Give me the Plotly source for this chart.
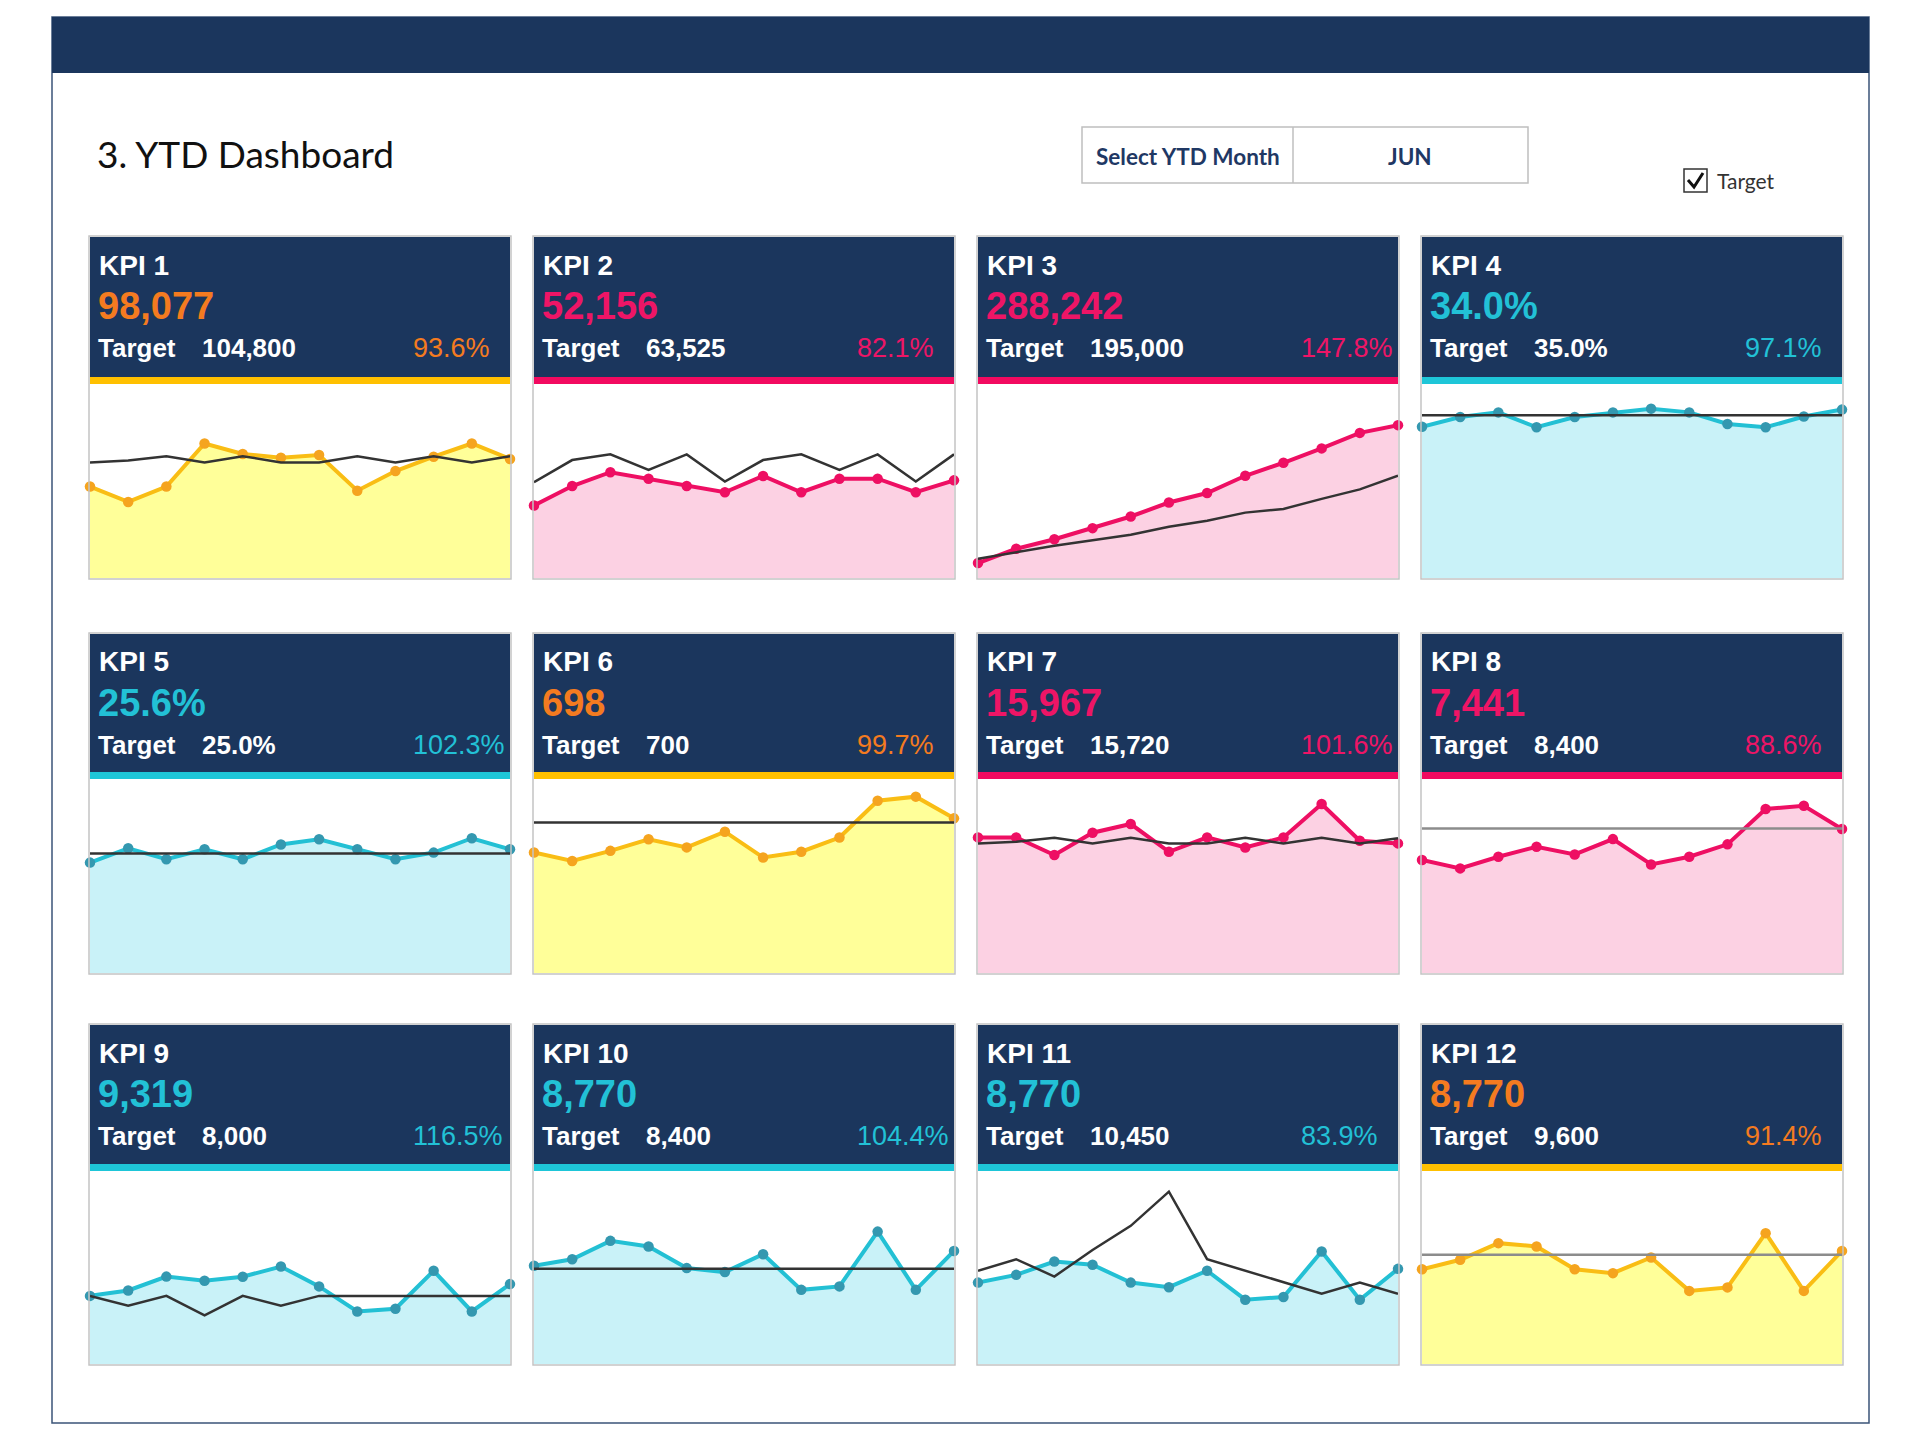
import plotly.graph_objects as go

W, H = 1920, 1440

# ---------------- data ----------------
months = ["JAN", "FEB", "MAR", "APR", "MAY", "JUN", "JUL", "AUG", "SEP", "OCT", "NOV", "DEC"]

kpi_names = [f"KPI {i}" for i in range(1, 13)]
kpi_values = ["98,077", "52,156", "288,242", "34.0%", "25.6%", "698",
              "15,967", "7,441", "9,319", "8,770", "8,770", "8,770"]
kpi_targets = ["104,800", "63,525", "195,000", "35.0%", "25.0%", "700",
               "15,720", "8,400", "8,000", "8,400", "10,450", "9,600"]
kpi_pcts = ["93.6%", "82.1%", "147.8%", "97.1%", "102.3%", "99.7%",
            "101.6%", "88.6%", "116.5%", "104.4%", "83.9%", "91.4%"]
kpi_status = ["amber", "red", "red", "blue", "blue", "amber",
              "red", "red", "blue", "blue", "blue", "amber"]

kpi1_actual = [7070, 5880, 7070, 10400, 9590, 9300, 9510, 6750, 8270, 9380, 10400, 9200]
kpi1_target = [8940, 9090, 9420, 8940, 9420, 8940, 8940, 9420, 8940, 9420, 8940, 9420]
kpi2_actual = [5600, 7110, 8180, 7680, 7110, 6630, 7890, 6630, 7680, 7680, 6630, 7550]
kpi2_target = [7400, 9120, 9560, 8360, 9560, 7460, 9120, 9560, 8360, 9560, 7460, 9560]
kpi3_actual = [38500, 75500, 100000, 128500, 158500, 194500, 219000, 263500, 297000, 334000, 374000, 394000]
kpi3_target = [49500, 66000, 83000, 97500, 111500, 132000, 147500, 168500, 178000, 204000, 228500, 263500]
kpi4_actual = [32.5, 34.6, 35.6, 32.4, 34.6, 35.6, 36.4, 35.6, 33.1, 32.4, 34.7, 36.2]
kpi4_target = [35.0] * 12
kpi5_actual = [23.1, 26.1, 23.8, 25.9, 23.8, 26.9, 28.0, 25.9, 23.8, 25.2, 28.2, 25.9]
kpi5_target = [25.0] * 12
kpi6_actual = [560, 521, 568, 622, 584, 657, 537, 564, 630, 801, 820, 719]
kpi6_target = [700] * 12
kpi7_actual = [2796, 2796, 2432, 2892, 3072, 2500, 2796, 2588, 2796, 3484, 2728, 2672]
kpi7_target = [2672, 2704, 2788, 2672, 2788, 2672, 2672, 2788, 2672, 2788, 2672, 2776]
kpi8_actual = [1094, 1013, 1126, 1223, 1148, 1297, 1051, 1126, 1246, 1588, 1620, 1394]
kpi8_target = [1400] * 12
kpi9_actual = [1341, 1448, 1721, 1638, 1718, 1919, 1528, 1034, 1087, 1835, 1034, 1573]
kpi9_target = [1341, 1148, 1341, 958, 1341, 1148, 1341, 1341, 1341, 1341, 1341, 1341]
kpi10_actual = [1446, 1542, 1812, 1730, 1411, 1352, 1616, 1091, 1142, 1948, 1091, 1664]
kpi10_target = [1400] * 12
kpi11_actual = [1198, 1312, 1508, 1460, 1198, 1130, 1372, 946, 985, 1656, 946, 1400]
kpi11_target = [1372, 1542, 1287, 1678, 2033, 2536, 1542, 1372, 1198, 1034, 1198, 1034]
kpi12_actual = [1388, 1527, 1770, 1722, 1388, 1331, 1560, 1071, 1122, 1917, 1071, 1657]
kpi12_target = [1600] * 12

actual_series = [kpi1_actual, kpi2_actual, kpi3_actual, kpi4_actual, kpi5_actual, kpi6_actual,
                 kpi7_actual, kpi8_actual, kpi9_actual, kpi10_actual, kpi11_actual, kpi12_actual]
target_series = [kpi1_target, kpi2_target, kpi3_target, kpi4_target, kpi5_target, kpi6_target,
                 kpi7_target, kpi8_target, kpi9_target, kpi10_target, kpi11_target, kpi12_target]

# value-axis maximum for each sparkline
y_max = [15000, 15000, 500000, 41.7, 40.6, 902, 4000, 1879, 3800, 2840, 2840, 2827]

selected_month = "JUN"

# ---------------- styles ----------------
NAVY = "#1b365d"
palette = {
    "amber": dict(strip="#ffc000", line="#f9bd14", marker="#f5a41f", fill="#ffff99", text="#f47b20"),
    "red": dict(strip="#f20a60", line="#ee0f63", marker="#ee0f63", fill="#fcd1e3", text="#ee1566"),
    "blue": dict(strip="#1ec6d8", line="#23c0d4", marker="#3498b0", fill="#c9f2f8", text="#22c1d6"),
}
target_color = ["#333333"] * 12
target_color[7] = "#8c8c8c"
target_color[11] = "#8c8c8c"

col_left = [90, 534, 978, 1422]
PW = 420
row_top = [237, 634, 1025]
text_top = [237, 634, 1025]
strip_bottom = [384, 779, 1171]
chart_bottom = [578, 973, 1364]
STRIP = 7


def px(x):
    return x / W


def py(y):
    return 1 - y / H


fig = go.Figure()
shapes = []
annotations = []

# outer frame + top band
shapes.append(dict(type="rect", xref="paper", yref="paper", x0=px(52), x1=px(1869), y0=py(1423), y1=py(17),
                   line=dict(color="#3b5478", width=1.5), fillcolor="rgba(0,0,0,0)", layer="below"))
shapes.append(dict(type="rect", xref="paper", yref="paper", x0=px(52), x1=px(1869), y0=py(73), y1=py(17),
                   line=dict(width=0), fillcolor=NAVY, layer="below"))

# title
annotations.append(dict(text="3. YTD Dashboard", xref="paper", yref="paper", x=px(95), y=py(154),
                        xanchor="left", yanchor="middle", showarrow=False,
                        font=dict(family="Lato", size=37, color="#111111")))

# month selector
shapes.append(dict(type="rect", xref="paper", yref="paper", x0=px(1082), x1=px(1528), y0=py(183), y1=py(127),
                   line=dict(color="#bfbfbf", width=1.5), fillcolor="white", layer="below"))
shapes.append(dict(type="line", xref="paper", yref="paper", x0=px(1293), x1=px(1293), y0=py(183), y1=py(127),
                   line=dict(color="#bfbfbf", width=1.5)))
annotations.append(dict(text="<b>Select YTD Month</b>", xref="paper", yref="paper", x=px(1188), y=py(157),
                        xanchor="center", yanchor="middle", showarrow=False,
                        font=dict(family="Lato", size=22.5, color="#1f3864")))
annotations.append(dict(text="<b>" + selected_month + "</b>", xref="paper", yref="paper", x=px(1410), y=py(157),
                        xanchor="center", yanchor="middle", showarrow=False,
                        font=dict(family="Lato", size=22.5, color="#1f3864")))

# checkbox
shapes.append(dict(type="rect", xref="paper", yref="paper", x0=px(1684), x1=px(1707), y0=py(192), y1=py(169),
                   line=dict(color="#333333", width=1.5), fillcolor="white"))
shapes.append(dict(type="path", xref="paper", yref="paper",
                   path=f"M {px(1688)},{py(180)} L {px(1694)},{py(187)} L {px(1703)},{py(173)}",
                   line=dict(color="#111111", width=3)))
annotations.append(dict(text="Target", xref="paper", yref="paper", x=px(1715), y=py(180),
                        xanchor="left", yanchor="middle", showarrow=False,
                        font=dict(family="Lato", size=21, color="#333333")))

layout_axes = {}
for i in range(12):
    r, c = divmod(i, 4)
    left = col_left[c]
    right = left + PW
    top = row_top[r]
    tt = text_top[r]
    sb = strip_bottom[r]
    cb = chart_bottom[r]
    st = palette[kpi_status[i]]

    # header
    shapes.append(dict(type="rect", xref="paper", yref="paper", x0=px(left), x1=px(right),
                       y0=py(sb - STRIP), y1=py(top), line=dict(width=0), fillcolor=NAVY, layer="below"))
    shapes.append(dict(type="rect", xref="paper", yref="paper", x0=px(left), x1=px(right),
                       y0=py(sb), y1=py(sb - STRIP), line=dict(width=0), fillcolor=st["strip"], layer="below"))
    # panel border
    shapes.append(dict(type="rect", xref="paper", yref="paper", x0=px(left - 1), x1=px(right + 1),
                       y0=py(cb + 1), y1=py(top - 1), line=dict(color="#c4c4c4", width=1.5),
                       fillcolor="rgba(0,0,0,0)", layer="above"))

    annotations.append(dict(text="<b>" + kpi_names[i] + "</b>", xref="paper", yref="paper",
                            x=px(left + 7), y=py(tt + 28), xanchor="left", yanchor="middle", showarrow=False,
                            font=dict(family="Liberation Sans", size=28, color="white")))
    annotations.append(dict(text="<b>" + kpi_values[i] + "</b>", xref="paper", yref="paper",
                            x=px(left + 6), y=py(tt + 69), xanchor="left", yanchor="middle", showarrow=False,
                            font=dict(family="Liberation Sans", size=38, color=st["text"])))
    annotations.append(dict(text="<b>Target</b>", xref="paper", yref="paper",
                            x=px(left + 6), y=py(tt + 111), xanchor="left", yanchor="middle", showarrow=False,
                            font=dict(family="Liberation Sans", size=26, color="white")))
    annotations.append(dict(text="<b>" + kpi_targets[i] + "</b>", xref="paper", yref="paper",
                            x=px(left + 110), y=py(tt + 111), xanchor="left", yanchor="middle", showarrow=False,
                            font=dict(family="Liberation Sans", size=26, color="white")))
    annotations.append(dict(text=kpi_pcts[i], xref="paper", yref="paper",
                            x=px(left + 321), y=py(tt + 111), xanchor="left", yanchor="middle", showarrow=False,
                            font=dict(family="Liberation Sans", size=27, color=st["text"])))

    k = "" if i == 0 else str(i + 1)
    xa, ya = "x" + k, "y" + k
    fig.add_trace(go.Scatter(x=months, y=actual_series[i], mode="lines+markers", fill="tozeroy",
                             fillcolor=st["fill"], line=dict(color=st["line"], width=4),
                             marker=dict(color=st["marker"], size=10.5), cliponaxis=False,
                             xaxis=xa, yaxis=ya, hoverinfo="skip", showlegend=False))
    fig.add_trace(go.Scatter(x=months, y=target_series[i], mode="lines",
                             line=dict(color=target_color[i], width=2.5), cliponaxis=False,
                             xaxis=xa, yaxis=ya, hoverinfo="skip", showlegend=False))
    layout_axes["xaxis" + k] = dict(domain=[px(left), px(right)], anchor=ya, visible=False,
                                    type="category", range=[0, 11], fixedrange=True)
    layout_axes["yaxis" + k] = dict(domain=[py(cb), py(sb)], anchor=xa, visible=False,
                                    range=[0, y_max[i]], fixedrange=True)

fig.update_layout(width=W, height=H, autosize=False, margin=dict(l=0, r=0, t=0, b=0, pad=0),
                  paper_bgcolor="white", plot_bgcolor="rgba(0,0,0,0)",
                  shapes=shapes, annotations=annotations, showlegend=False, **layout_axes)

fig.write_html("out.html", config={"displayModeBar": False},
               post_script="document.body.style.margin='0px';document.body.style.overflow='hidden';")
